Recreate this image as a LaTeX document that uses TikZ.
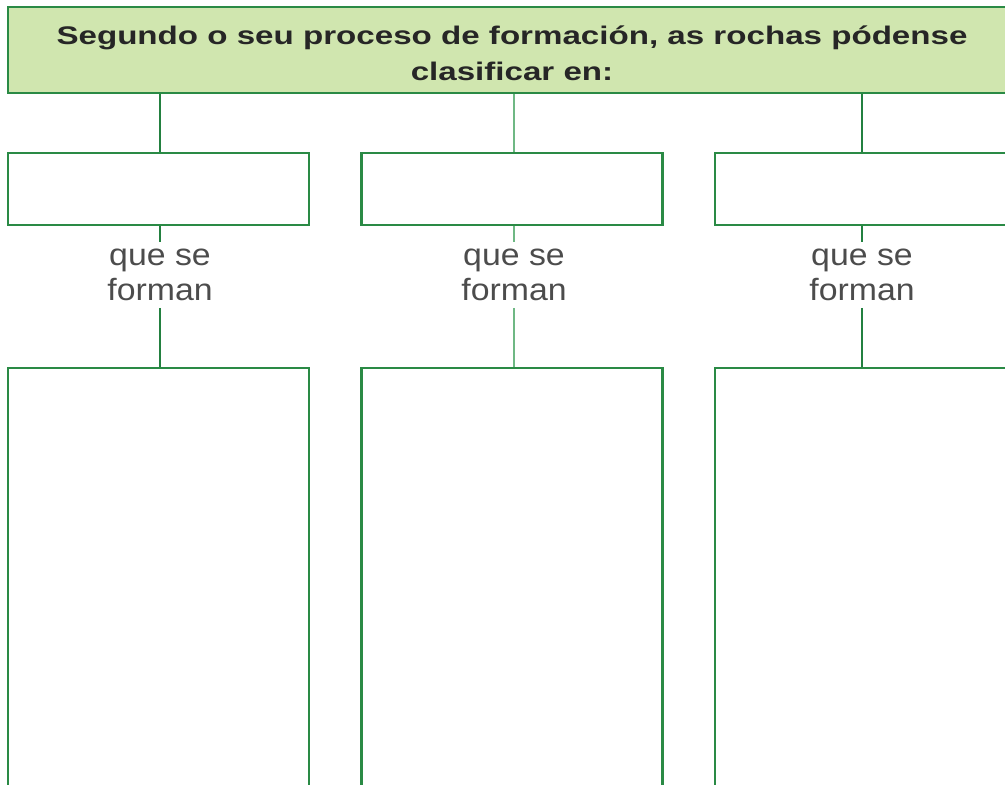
\documentclass[tikz,border=0pt]{standalone}
\usepackage{fontspec}
\setmainfont{Liberation Sans}
\newfontfamily\headfont[FakeStretch=1.3]{Liberation Sans}
\newfontfamily\labfont[FakeStretch=1.1]{Liberation Sans}
\usetikzlibrary{positioning}

\definecolor{boxgreen}{HTML}{2A8A45}
\definecolor{linegreen}{HTML}{238040}
\definecolor{palegreen}{HTML}{6FB884}
\definecolor{headfill}{HTML}{D0E6AF}

\tikzset{
    headbox/.style={draw=boxgreen, fill=headfill, line width=1.2pt,
        minimum width=20.16cm, minimum height=1.72cm, inner sep=0pt,
        align=center, text=black!85,
        font=\headfont\bfseries\fontsize{14.5}{20.5}\selectfont},
    cell/.style={draw=boxgreen, line width=1.2pt, inner sep=0pt,
        minimum width=6.02cm, minimum height=1.44cm},
    tallcell/.style={cell, minimum height=8.84cm},
    formlabel/.style={align=center, inner sep=4pt, text=black!70,
        font=\labfont\fontsize{17.5}{19.5}\selectfont},
    link/.style={draw=linegreen, line width=1.3pt},
    palelink/.style={draw=palegreen, line width=1.2pt}
}

\begin{document}
\begin{tikzpicture}[x=0.02cm, y=-0.02cm]
                \useasboundingbox (0,0) rectangle (1005,785);
                \clip (0,0) rectangle (1005,785);

                % cabeceira
                \node[headbox] (top) at (512,50)
                    {\raisebox{-3pt}[\height][\depth]{\begin{tabular}{@{}c@{}}Segundo o seu proceso de formación, as rochas pódense\\clasificar en:\end{tabular}}};

                % caixas pequenas
                \node[cell] (s1) at (158.5,189) {};
                \node[cell] (s2) at (512,189) {};
                \node[cell] (s3) at (865.5,189) {};

                % que se forman
                \node[formlabel] (f1) at (160,275) {que se\\forman};
                \node[formlabel] (f2) at (514,275) {que se\\forman};
                \node[formlabel] (f3) at (862,275) {que se\\forman};

                % caixas altas
                \node[tallcell] (b1) at (158.5,589) {};
                \node[tallcell] (b2) at (512,589) {};
                \node[tallcell] (b3) at (865.5,589) {};

                \draw[link] (top.south -| f1.north) -- (s1.north -| f1.north);
                \draw[palelink] (top.south -| f2.north) -- (s2.north -| f2.north);
                \draw[link] (top.south -| f3.north) -- (s3.north -| f3.north);

                \draw[link] (s1.south -| f1.north) -- (f1.north);
                \draw[palelink] (s2.south -| f2.north) -- (f2.north);
                \draw[link] (s3.south -| f3.north) -- (f3.north);

                \draw[link] (f1.south) -- (b1.north -| f1.south);
                \draw[palelink] (f2.south) -- (b2.north -| f2.south);
                \draw[link] (f3.south) -- (b3.north -| f3.south);
\end{tikzpicture}
\end{document}
